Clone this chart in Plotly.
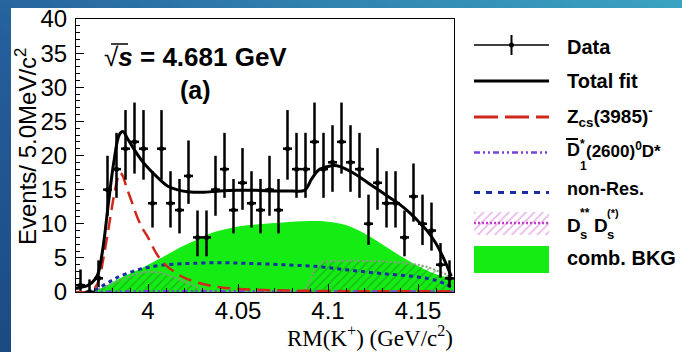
import math
import base64
import plotly.graph_objects as go

# ---------------- data: RM(K+) at sqrt(s) = 4.681 GeV, 5 MeV bins ----------------
bin_lo = 3.960
bin_width = 0.005
counts = [1, 0, 2, 15, 18, 21, 22, 21, 13, 21, 13, 12, 17, 8, 8, 15, 18, 12, 16, 13,
          12, 15, 12, 21, 18, 18, 22, 18, 19, 22, 19, 18, 10, 16, 13, 13, 8, 14, 10, 9, 4, 2]

# total fit
total_x = [3.960, 3.963, 3.966, 3.969, 3.972, 3.975, 3.978, 3.981, 3.984, 3.986, 3.989,
           3.993, 3.997, 4.001, 4.006, 4.011, 4.016, 4.022, 4.030, 4.040, 4.050, 4.060,
           4.070, 4.080, 4.087, 4.091, 4.095, 4.100, 4.105, 4.110, 4.115, 4.120, 4.125,
           4.130, 4.135, 4.140, 4.145, 4.150, 4.155, 4.160, 4.165, 4.1685]
total_y = [0.5, 0.7, 0.9, 1.4, 2.5, 6.5, 13.0, 19.0, 23.0, 23.5, 22.3,
           20.6, 19.1, 17.9, 16.6, 15.5, 15.0, 14.7, 14.6, 14.8, 14.9, 14.9,
           14.8, 14.8, 14.9, 16.6, 17.9, 18.4, 18.5, 18.0, 17.3, 16.4, 15.5,
           14.6, 13.7, 12.8, 11.7, 10.4, 9.0, 7.1, 4.5, 2.3]

# Zcs(3985)- signal
zcs_x = [3.960, 3.968, 3.971, 3.973, 3.975, 3.977, 3.979, 3.981, 3.983, 3.9845, 3.986,
         3.988, 3.991, 3.994, 3.997, 4.000, 4.005, 4.010, 4.015, 4.020, 4.030, 4.040,
         4.050, 4.070, 4.100, 4.130, 4.170]
zcs_y = [0.0, 0.1, 0.8, 2.0, 4.6, 7.6, 10.8, 14.0, 16.5, 17.5, 17.0,
         15.4, 13.2, 11.0, 9.3, 8.0, 5.5, 3.9, 2.9, 2.1, 1.2, 0.7,
         0.45, 0.25, 0.15, 0.1, 0.1]

# D1*(2600)0 D* component
d1_x = [3.966, 4.000, 4.050, 4.100, 4.150, 4.170]
d1_y = [0.0, 0.1, 0.1, 0.1, 0.1, 0.05]

# non-resonant component
nonres_x = [3.966, 3.970, 3.974, 3.978, 3.982, 3.988, 3.995, 4.000, 4.007, 4.015, 4.025,
            4.040, 4.055, 4.075, 4.095, 4.112, 4.130, 4.150, 4.160, 4.165, 4.1685]
nonres_y = [0.0, 0.3, 0.8, 1.4, 2.0, 2.7, 3.3, 3.6, 3.9, 4.1, 4.2,
            4.3, 4.2, 4.0, 3.7, 3.2, 2.7, 2.2, 1.7, 1.2, 0.7]

# Ds** Ds(*) component
dss_x = [3.966, 3.972, 3.978, 3.985, 3.992, 4.000, 4.008, 4.015, 4.022, 4.028, 4.035,
         4.040, 4.087, 4.090, 4.093, 4.096, 4.100, 4.110, 4.120, 4.130, 4.140, 4.150,
         4.155, 4.160, 4.165, 4.1685]
dss_y = [0.0, 0.4, 1.0, 1.8, 2.5, 3.0, 2.8, 2.1, 1.3, 0.6, 0.1,
         0.0, 0.0, 1.8, 3.5, 4.3, 4.5, 4.6, 4.55, 4.5, 4.3, 4.0,
         3.7, 3.2, 2.7, 2.3]

# combinatorial background
bkg_x = [3.962, 3.970, 3.975, 3.980, 3.985, 3.990, 3.995, 4.000, 4.005, 4.010, 4.015,
         4.020, 4.025, 4.030, 4.035, 4.040, 4.050, 4.060, 4.070, 4.080, 4.090, 4.100,
         4.110, 4.120, 4.130, 4.140, 4.150, 4.160, 4.170]
bkg_y = [0.0, 0.2, 0.7, 1.4, 2.1, 2.7, 3.3, 4.0, 4.7, 5.4, 6.1,
         6.8, 7.4, 8.0, 8.6, 9.0, 9.6, 9.9, 10.1, 10.3, 10.4, 10.3,
         9.8, 8.6, 7.0, 5.3, 3.8, 2.6, 1.9]

x_ticks = [4.0, 4.05, 4.1, 4.15]
x_tick_text = ["4", "4.05", "4.1", "4.15"]

# ---------------- colours ----------------
C_RED = "#d0281c"
C_BLUE = "#1a2ca6"
C_PURPLE = "#7442dc"
C_GREEN = "#14ec14"
C_HATCH = "#1e8a1e"
C_HATCH_EDGE = "#8c9c84"
C_PINK = "#d870d8"
C_MAGENTA = "#c040c8"

W, H = 682, 352
PX_L, PX_R, PX_T, PX_B = 76, 454, 19, 292


# Garwood (central 68.27%) Poisson intervals for the data points
def pois_cdf(n, mu):
    term = math.exp(-mu)
    s = term
    for i in range(1, n + 1):
        term *= mu / i
        s += term
    return s


def solve_mu(n, target, lo, hi):
    for _ in range(80):
        mid = 0.5 * (lo + hi)
        if pois_cdf(n, mid) > target:
            lo = mid
        else:
            hi = mid
    return 0.5 * (lo + hi)


alpha = 0.158655
err_hi, err_lo = [], []
for n in counts:
    up = solve_mu(n, alpha, float(n), n + 10 * math.sqrt(n + 1) + 10)
    low = 0.0 if n == 0 else solve_mu(n - 1, 1 - alpha, 0.0, float(n))
    err_hi.append(up - n)
    err_lo.append(n - low)

centers = [bin_lo + bin_width * (i + 0.5) for i in range(len(counts))]

fig = go.Figure()

# combinatorial background (solid green)
fig.add_trace(go.Scatter(x=bkg_x, y=bkg_y, mode="lines", fill="tozeroy",
                         fillcolor=C_GREEN, line=dict(width=0, color=C_GREEN),
                         line_shape="spline", hoverinfo="skip"))
# Ds** Ds(*) (hatched)
fig.add_trace(go.Scatter(x=dss_x, y=dss_y, mode="lines", fill="tozeroy",
                         fillcolor="rgba(0,0,0,0)",
                         fillpattern=dict(shape="/", fgcolor=C_HATCH, bgcolor="rgba(0,0,0,0)",
                                          size=6, solidity=0.25),
                         line=dict(color=C_HATCH_EDGE, width=2, dash="2px,2px"),
                         hoverinfo="skip"))
# D1*(2600) D*
fig.add_trace(go.Scatter(x=d1_x, y=d1_y, mode="lines",
                         line=dict(color=C_PURPLE, width=2.5, dash="6px,3px,2px,3px,2px,3px")))
# non-resonant
fig.add_trace(go.Scatter(x=nonres_x, y=nonres_y, mode="lines", line_shape="spline",
                         line=dict(color=C_BLUE, width=3, dash="4px,4px")))
# Zcs(3985)
fig.add_trace(go.Scatter(x=zcs_x, y=zcs_y, mode="lines", line_shape="spline",
                         line=dict(color=C_RED, width=2.5, dash="13px,7px")))
# total fit
fig.add_trace(go.Scatter(x=total_x, y=total_y, mode="lines", line_shape="spline",
                         line=dict(color="black", width=3)))
# data
fig.add_trace(go.Scatter(x=centers, y=counts, mode="markers",
                         marker=dict(color="black", size=5),
                         error_y=dict(type="data", array=err_hi, arrayminus=err_lo,
                                      symmetric=False, thickness=2.5, width=0, color="black"),
                         error_x=dict(type="constant", value=bin_width / 2,
                                      thickness=2.5, width=0, color="black")))

# ---------------- legend samples (pixel-space overlay axes) ----------------
LX0, LX1 = 474, 549
ov = dict(xaxis="x2", yaxis="y2", hoverinfo="skip")
fig.add_trace(go.Scatter(x=[LX0, LX1], y=[45, 45], mode="lines",
                         line=dict(color="black", width=1.5), **ov))
fig.add_trace(go.Scatter(x=[511.5], y=[45], mode="markers", marker=dict(color="black", size=5),
                         error_y=dict(type="constant", value=10, thickness=2, width=0,
                                      color="black"), **ov))
fig.add_trace(go.Scatter(x=[LX0, LX1], y=[81, 81], mode="lines",
                         line=dict(color="black", width=3), **ov))
fig.add_trace(go.Scatter(x=[LX0, LX1], y=[117, 117], mode="lines",
                         line=dict(color=C_RED, width=3, dash="24px,7px"), **ov))
fig.add_trace(go.Scatter(x=[LX0, LX1], y=[152.5, 152.5], mode="lines",
                         line=dict(color=C_PURPLE, width=2.5,
                                   dash="6px,3px,2px,3px,2px,3px"), **ov))
fig.add_trace(go.Scatter(x=[LX0, LX1], y=[192.5, 192.5], mode="lines",
                         line=dict(color=C_BLUE, width=3, dash="6px,6px"), **ov))
fig.add_trace(go.Scatter(x=[LX0, LX1, LX1, LX0, LX0], y=[212, 212, 235, 235, 212],
                         mode="lines", fill="toself", fillcolor="rgba(0,0,0,0)",
                         fillpattern=dict(shape="/", fgcolor=C_PINK, bgcolor="rgba(0,0,0,0)",
                                          size=6, solidity=0.3),
                         line=dict(width=0, color="rgba(0,0,0,0)"), **ov))
fig.add_trace(go.Scatter(x=[LX0, LX1], y=[223, 223], mode="lines",
                         line=dict(color=C_MAGENTA, width=2.5, dash="2px,2px"), **ov))
fig.add_trace(go.Scatter(x=[LX0, LX1, LX1, LX0, LX0], y=[246, 246, 273, 273, 246],
                         mode="lines", fill="toself", fillcolor=C_GREEN,
                         line=dict(width=0, color=C_GREEN), **ov))

# ---------------- text ----------------
SANS = "Liberation Sans"
SERIF = "Liberation Serif"


def txt(x, y, text, size, xanchor="left", yanchor="middle", family=SANS, angle=0):
    return dict(x=x, y=y, xref="x2", yref="y2", text=text, showarrow=False,
                xanchor=xanchor, yanchor=yanchor, textangle=angle,
                font=dict(family=family, size=size, color="black"))


annotations = [
    txt(102, 57, "√<b><i>s</i> = 4.681 GeV</b>", 26),
    txt(195, 90, "<b>(a)</b>", 25, xanchor="center"),
    txt(26, 147, "Events/ 5.0MeV/c<sup>2</sup>", 24, xanchor="center", angle=-90),
    txt(455, 336, "RM(K<sup>+</sup>) (GeV/c<sup>2</sup>)", 23, xanchor="right",
        family=SERIF),
    # legend labels
    txt(565, 47, "<b>Data</b>", 20),
    txt(565, 81, "<b>Total fit</b>", 20),
    txt(565, 116, "<b>Z<sub>cs</sub>(3985)<sup>-</sup></b>", 19),
    txt(565, 150, "<b>D</b>", 18),
    txt(578, 144, "<b>*</b>", 12),
    txt(578, 166, "<b>1</b>", 12),
    txt(584, 150, "<b>(2600)<sup>0</sup>D*</b>", 17),
    txt(565, 225, "<b>D</b>", 19),
    txt(578, 213, "<b>**</b>", 12),
    txt(578, 234, "<b>s</b>", 13),
    txt(592, 225, "<b>D</b>", 19),
    txt(605, 213, "<b>(*)</b>", 11),
    txt(605, 234, "<b>s</b>", 13),
    txt(565, 189, "<b>non-Res.</b>", 18),
    txt(565, 258, "<b>comb. BKG</b>", 20),
]

shapes = [
    # bar of the square root sign
    dict(type="line", xref="x2", yref="y2", x0=111, x1=128, y0=44, y1=44,
         line=dict(color="black", width=1.5)),
    # bar over the D in the D1* label
    dict(type="line", xref="x2", yref="y2", x0=566, x1=578, y0=139, y1=139,
         line=dict(color="black", width=2)),
]

# slide background: blue gradient frame with white panel
svg = (
    f'<svg xmlns="http://www.w3.org/2000/svg" width="{W}" height="{H}">'
    '<defs><linearGradient id="g" x1="0" y1="1" x2="1" y2="0">'
    '<stop offset="0" stop-color="#1b4a82"/><stop offset="0.45" stop-color="#255f9b"/>'
    '<stop offset="1" stop-color="#3ba4c2"/></linearGradient></defs>'
    f'<rect width="{W}" height="{H}" fill="url(#g)"/>'
    f'<rect x="11" y="8" width="{W - 11}" height="{H - 8}" fill="#ffffff"/></svg>'
)
bg_src = "data:image/svg+xml;base64," + base64.b64encode(svg.encode()).decode()

axis_font = dict(family=SANS, size=24, color="black")
fig.update_layout(
    width=W, height=H, margin=dict(l=0, r=0, t=0, b=0),
    paper_bgcolor="white", plot_bgcolor="rgba(0,0,0,0)", showlegend=False,
    xaxis=dict(domain=[PX_L / W, PX_R / W], range=[3.96, 4.17], anchor="y",
               tickvals=x_ticks, ticktext=x_tick_text, ticks="inside", ticklen=8,
               tickwidth=1, tickcolor="black",
               minor=dict(tick0=4.0, dtick=0.01, ticks="inside", ticklen=4,
                          tickwidth=1, tickcolor="black"),
               showline=True, linecolor="black", linewidth=1.2, mirror=True,
               showgrid=False, zeroline=False, tickfont=axis_font,
               ticklabelstandoff=-3, automargin=False),
    yaxis=dict(domain=[(H - PX_B) / H, (H - PX_T) / H], range=[0, 40], anchor="x",
               tick0=0, dtick=5, ticks="inside", ticklen=8, tickwidth=1, tickcolor="black",
               minor=dict(dtick=1, ticks="inside", ticklen=4, tickwidth=1, tickcolor="black"),
               showline=True, linecolor="black", linewidth=1.2, mirror=True,
               showgrid=False, zeroline=False, tickfont=axis_font,
               ticklabelstandoff=3, automargin=False),
    xaxis2=dict(domain=[0, 1], range=[0, W], anchor="y2", visible=False, fixedrange=True),
    yaxis2=dict(domain=[0, 1], range=[H, 0], anchor="x2", visible=False, fixedrange=True),
    annotations=annotations,
    shapes=shapes,
    images=[dict(source=bg_src, xref="paper", yref="paper", x=0, y=1, sizex=1, sizey=1,
                 xanchor="left", yanchor="top", sizing="stretch", layer="below")],
)

fig.write_html("out.html")
